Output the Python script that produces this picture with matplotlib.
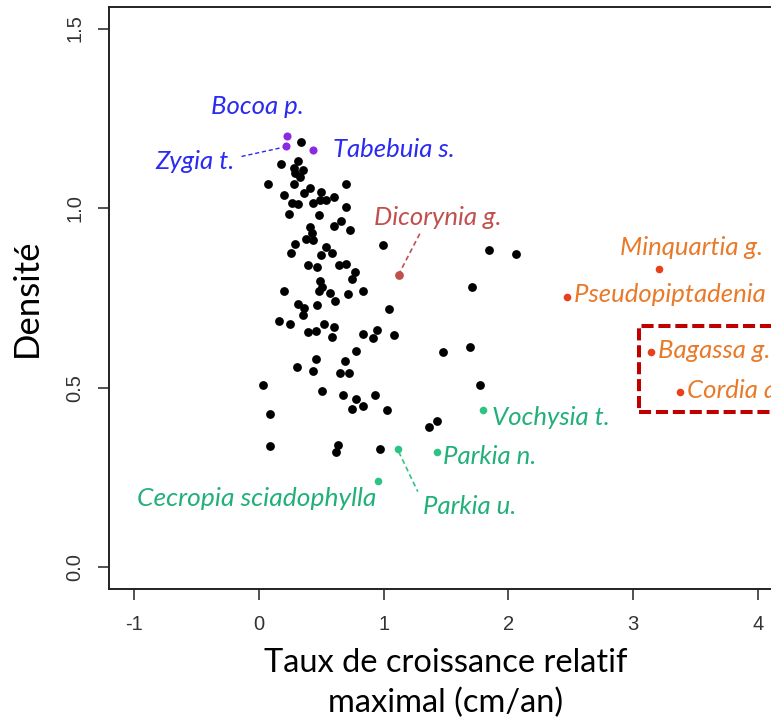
import matplotlib
matplotlib.use("Agg")
import matplotlib.pyplot as plt
from matplotlib.patches import Rectangle

# ---- data ----
black_x = [0.342, 0.179, 0.318, 0.280, 0.353, 0.294, 0.332, 0.071, 0.286, 0.696,
           0.200, 0.414, 0.495, 0.361, 0.264, 0.318, 0.433, 0.487, 0.541, 0.602,
           0.696, 0.240, 0.479, 0.655, 0.602, 0.728, 0.414, 0.428, 0.380, 0.433,
           0.294, 0.995, 0.535, 0.259, 0.500, 0.589, 0.398, 0.465, 0.639, 0.701,
           0.768, 0.746, 0.492, 0.505, 0.206, 0.481, 0.567, 0.714, 0.835, 0.312,
           0.366, 0.465, 0.353, 0.613, 1.043, 0.160, 0.251, 0.521, 0.599, 0.396,
           0.460, 0.589, 0.835, 0.947, 0.915, 1.081, 0.782, 0.455, 0.693, 0.304,
           0.433, 0.647, 0.720, 0.031, 0.505, 0.677, 0.776, 0.929, 0.749, 0.832,
           1.031, 0.091, 1.424, 1.360, 0.093, 0.631, 0.621, 0.969, 1.844, 2.059,
           1.705, 1.472, 1.692, 1.772]
black_y = [1.183, 1.124, 1.132, 1.112, 1.105, 1.098, 1.088, 1.068, 1.068, 1.068,
           1.037, 1.057, 1.046, 1.042, 1.014, 1.012, 1.014, 1.023, 1.023, 1.032,
           1.004, 0.984, 0.980, 0.965, 0.951, 0.940, 0.949, 0.930, 0.914, 0.912,
           0.900, 0.898, 0.893, 0.875, 0.870, 0.875, 0.842, 0.836, 0.842, 0.845,
           0.823, 0.803, 0.798, 0.781, 0.770, 0.770, 0.763, 0.760, 0.770, 0.732,
           0.721, 0.730, 0.703, 0.742, 0.718, 0.687, 0.679, 0.677, 0.668, 0.654,
           0.658, 0.642, 0.650, 0.661, 0.640, 0.647, 0.602, 0.579, 0.574, 0.558,
           0.548, 0.540, 0.540, 0.508, 0.492, 0.479, 0.468, 0.479, 0.440, 0.450,
           0.438, 0.426, 0.408, 0.391, 0.337, 0.342, 0.321, 0.329, 0.884, 0.873,
           0.780, 0.600, 0.613, 0.509]

purple_names = ["Bocoa p.", "Zygia t.", "Tabebuia s."]
purple_x = [0.227, 0.219, 0.436]
purple_y = [1.202, 1.174, 1.163]

red_names = ["Dicorynia g."]
red_x = [1.121]
red_y = [0.814]

green_names = ["Parkia u.", "Parkia n.", "Vochysia t.", "Cecropia sciadophylla"]
green_x = [1.116, 1.424, 1.794, 0.953]
green_y = [0.329, 0.321, 0.438, 0.240]

orange_names = ["Minquartia g.", "Pseudopiptadenia s.", "Bagassa g.", "Cordia a."]
orange_x = [3.204, 2.471, 3.143, 3.373]
orange_y = [0.830, 0.753, 0.600, 0.489]

x_ticks = [-1, 0, 1, 2, 3, 4]
y_ticks = [0.0, 0.5, 1.0, 1.5]
y_ticklabels = ["0.0", "0.5", "1.0", "1.5"]

# ---- figure ----
W, H = 771, 722
fig = plt.figure(figsize=(W / 100, H / 100), dpi=100)
ax = fig.add_axes([109 / W, 1 - 589 / H, (783 - 109) / W, (589 - 7) / H])
ax.set_xlim(-1.2, 4.2)
ax.set_ylim(-0.06, 1.56)

for s in ax.spines.values():
    s.set_linewidth(1.4)
    s.set_color("#222222")

ax.set_xticks(x_ticks)
ax.set_xticklabels([str(t) for t in x_ticks], fontname="Liberation Sans", fontsize=14.5, color="#333333")
ax.set_yticks(y_ticks)
ax.set_yticklabels(y_ticklabels, fontname="Liberation Sans", fontsize=14.5, color="#333333",
                   rotation=90, va="center")
ax.tick_params(direction="out", length=8, width=1.2, color="#333333")
ax.tick_params(axis="x", pad=10.5)
ax.tick_params(axis="y", pad=10)

ax.set_ylabel("Densité", fontname="Lato", fontsize=25, labelpad=16)
ax.set_xlabel("Taux de croissance relatif\nmaximal (cm/an)", fontname="Lato",
              fontsize=23.5, labelpad=10, linespacing=1.42)

ax.scatter(black_x, black_y, s=40, color="black", zorder=3, linewidths=0)

PURPLE = "#8a2be2"
BLUE_TXT = "#2a2af0"
RED = "#c0504d"
GREEN = "#2cc482"
GREEN_TXT = "#22b07a"
ORANGE_DOT = "#e8401c"
ORANGE_TXT = "#e87a2a"

ax.scatter(purple_x, purple_y, s=34, color=PURPLE, zorder=4, linewidths=0)
ax.scatter(red_x, red_y, s=40, color=RED, zorder=4, linewidths=0)
ax.scatter(green_x, green_y, s=30, color=GREEN, zorder=4, linewidths=0)
ax.scatter(orange_x, orange_y, s=30, color=ORANGE_DOT, zorder=4, linewidths=0)

tfont = dict(fontname="Lato", fontsize=18.5, style="italic")

# purple labels
ax.text(-0.011, 1.284, purple_names[0], color=BLUE_TXT, ha="center", va="center", **tfont)
ax.text(-0.197, 1.130, purple_names[1], color=BLUE_TXT, ha="right", va="center", **tfont)
ax.plot([-0.138, 0.19], [1.144, 1.169], ls=(0, (3, 2)), color=BLUE_TXT, lw=1)
ax.text(0.591, 1.164, purple_names[2], color=BLUE_TXT, ha="left", va="center", **tfont)

# red label
ax.text(1.434, 0.974, red_names[0], color=RED, ha="center", va="center", **tfont)
ax.plot([1.29, 1.129], [0.929, 0.821], ls=(0, (3, 2)), color=RED, lw=1.2)

# green labels
ax.plot([1.121, 1.274], [0.322, 0.211], ls=(0, (3, 2)), color=GREEN, lw=1.2)
ax.text(1.313, 0.169, green_names[0], color=GREEN_TXT, ha="left", va="center", **tfont)
ax.text(1.475, 0.308, green_names[1], color=GREEN_TXT, ha="left", va="center", **tfont)
ax.text(1.866, 0.417, green_names[2], color=GREEN_TXT, ha="left", va="center", **tfont)
ax.text(0.944, 0.191, green_names[3], color=GREEN_TXT, ha="right", va="center",
        fontname="Lato", fontsize=19, style="italic")

# orange labels
ax.text(3.467, 0.891, orange_names[0], color=ORANGE_TXT, ha="center", va="center", **tfont)
ax.text(2.527, 0.760, orange_names[1], color=ORANGE_TXT, ha="left", va="center", **tfont)
ax.text(3.202, 0.604, orange_names[2], color=ORANGE_TXT, ha="left", va="center", **tfont)
ax.text(3.427, 0.492, orange_names[3], color=ORANGE_TXT, ha="left", va="center", **tfont)

rect = Rectangle((3.043, 0.432), 1.5, 0.241, fill=False, edgecolor="#c00000",
                 lw=2.9, ls=(0, (3, 1.2)), zorder=2, clip_on=True)
ax.add_patch(rect)

fig.savefig("out.png", dpi=100)
